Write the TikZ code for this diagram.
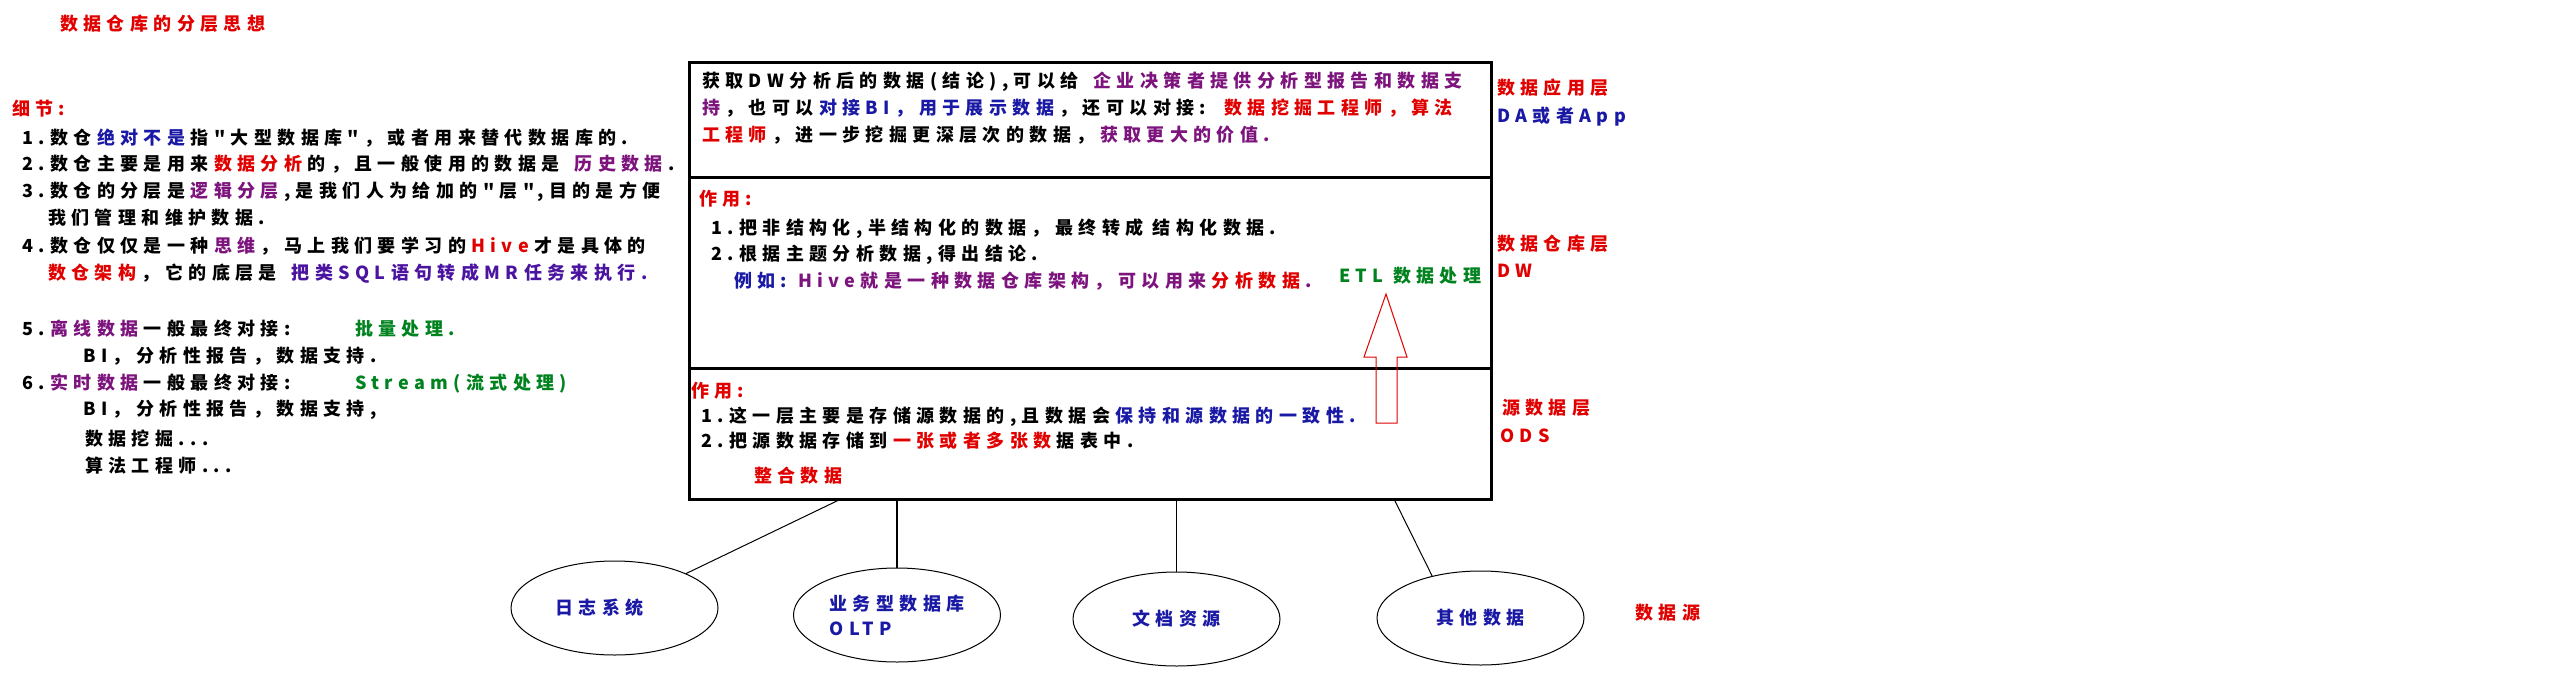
\documentclass[tikz,border=0pt]{standalone}
\usepackage{fontspec}
\setmainfont{Noto Sans CJK SC}[LetterSpace=30, Ligatures=TeXOff]
\usetikzlibrary{shapes.geometric}
\definecolor{cred}{RGB}{225,0,0}
\definecolor{cblue}{RGB}{25,25,165}
\definecolor{cpurple}{RGB}{125,20,125}
\definecolor{cgreen}{RGB}{0,130,30}
\definecolor{cindigo}{RGB}{75,20,160}
\newcommand\hl[2]{\kern.3em\textcolor{#1}{#2}\kern.3em}
\newcommand\hlstart[2]{\textcolor{#1}{#2}\kern.3em}
\begin{document}
\begin{tikzpicture}[x=1pt, y=-1pt,
        txt/.style={anchor=base west, inner sep=0pt, font=\fontsize{18}{22}\selectfont\bfseries},
        layer/.style={draw, line width=3pt, minimum width=802pt, inner sep=0pt},
        src/.style={draw, ellipse, line width=1pt, minimum width=207pt, minimum height=94pt, inner sep=0pt,
                    align=left, text=cblue, font=\fontsize{18}{25}\selectfont\bfseries}]
        \fill[white] (0,0) rectangle (2560,689);

        \node[txt, text=cred] (1) at (60,30) {数据仓库的分层思想};
        \node[txt, text=cred] (2) at (12,115) {细节:};
        \node[txt] (3) at (22,144) {1.数仓\hl{cblue}{绝对不是}指"大型数据库"，或者用来替代数据库的.};
        \node[txt] (4) at (22,170) {2.数仓主要是用来\hl{cred}{数据分析}的，且一般使用的数据是 \hl{cpurple}{历史数据}.};
        \node[txt] (5) at (22,197) {3.数仓的分层是\hl{cpurple}{逻辑分层},是我们人为给加的"层",目的是方便};
        \node[txt] (6) at (48,224) {我们管理和维护数据.};
        \node[txt] (7) at (22,252) {4.数仓仅仅是一种\hl{cpurple}{思维}，马上我们要学习的\hl{cred}{Hive}才是具体的};
        \node[txt] (8) at (48,279) {\hlstart{cred}{数仓架构}，它的底层是 \hl{cindigo}{把类SQL语句转成MR任务来执行.}};
        \node[txt] (9) at (22,335) {5.\hl{cpurple}{离线数据}一般最终对接:};
        \node[txt, text=cgreen] (10) at (355,335) {批量处理.};
        \node[txt] (11) at (83,362) {BI，分析性报告，数据支持.};
        \node[txt] (12) at (22,389) {6.\hl{cpurple}{实时数据}一般最终对接:};
        \node[txt, text=cgreen] (13) at (355,389) {Stream(流式处理)};
        \node[txt] (14) at (83,415) {BI，分析性报告，数据支持,};
        \node[txt] (15) at (85,445) {数据挖掘...};
        \node[txt] (16) at (85,472) {算法工程师...};

        \node[layer, minimum height=115pt] (20) at (1090,119.5) {};
        \node[layer, minimum height=191pt] (21) at (1090,272.5) {};
        \node[layer, minimum height=131pt] (22) at (1090,433.5) {};

        \node[txt] (23) at (702,87) {获取DW分析后的数据(结论),可以给 \hl{cpurple}{企业决策者提供分析型报告和数据支}};
        \node[txt] (24) at (702,114) {\hlstart{cpurple}{持}，也可以\hl{cblue}{对接BI，用于展示数据}，还可以对接: \hl{cred}{数据挖掘工程师，算法}};
        \node[txt] (25) at (702,141) {\hlstart{cred}{工程师}，进一步挖掘更深层次的数据，\hl{cpurple}{获取更大的价值.}};

        \node[txt, text=cred] (26) at (699,205) {作用:};
        \node[txt] (27) at (711,234) {1.把非结构化,半结构化的数据，最终转成 结构化数据.};
        \node[txt] (28) at (711,260) {2.根据主题分析数据,得出结论.};
        \node[txt] (29) at (734,287) {\hlstart{cblue}{例如:} \hl{cpurple}{Hive就是一种数据仓库架构，可以用来}\textcolor{cred}{分析数据}\hl{cpurple}{.}};
        \node[txt, text=cgreen] (30) at (1339,282) {ETL 数据处理};
        \draw[cred, line width=1pt] (1386,294) -- (1407,357) -- (1397,357) -- (1397,423)
                -- (1376,423) -- (1376,357) -- (1364,357) -- cycle;

        \node[txt, text=cred] (31) at (691,397) {作用:};
        \node[txt] (32) at (701,422) {1.这一层主要是存储源数据的,且数据会\hl{cblue}{保持和源数据的一致性.}};
        \node[txt] (33) at (701,447) {2.把源数据存储到\hl{cred}{一张或者多张数}据表中.};
        \node[txt, text=cred] (34) at (754,482) {整合数据};

        \node[txt, text=cred] (35) at (1497,94) {数据应用层};
        \node[txt, text=cblue] (36) at (1497,122) {DA或者App};
        \node[txt, text=cred] (37) at (1497,250) {数据仓库层};
        \node[txt, text=cred] (38) at (1497,277) {DW};
        \node[txt, text=cred] (39) at (1502,414) {源数据层};
        \node[txt, text=cred] (40) at (1500,442) {ODS};

        \node[src] (41) at (614.5,608) {日志系统\kern30pt};
        \node[src] (42) at (897,615) {业务型数据库\\OLTP};
        \node[src] (43) at (1176.5,619) {文档资源};
        \node[src] (44) at (1480.5,618) {其他数据};
        \node[txt, text=cred] (45) at (1635,619) {数据源};

        \coordinate (c1) at (841,499);
        \coordinate (c4) at (1394,499);
        \draw[line width=1pt] (c1) edge (41);
        \draw[line width=2.5pt] (22.south -| 42) edge (42);
        \draw[line width=1pt] (22.south -| 43) edge (43);
        \draw[line width=1pt] (c4) edge (44.139);
      \end{tikzpicture}
\end{document}
